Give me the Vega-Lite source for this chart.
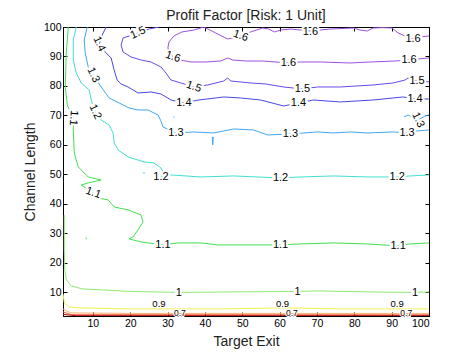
{
  "$schema": "https://vega.github.io/schema/vega-lite/v6.json",
  "autosize": {"type": "none"},
  "width": 366,
  "height": 289,
  "padding": {"left": 63, "top": 27, "right": 45, "bottom": 39},
  "background": "white",
  "title": {"text": "Profit Factor [Risk: 1 Unit]", "font": "Liberation Sans", "fontSize": 14, "fontWeight": "normal", "color": "#222", "offset": 1, "dy": 2},
  "config": {
    "view": {"stroke": "black", "strokeWidth": 1},
    "axis": {"domainColor": "black", "tickColor": "black", "labelColor": "black", "titleColor": "#222", "labelFont": "Liberation Sans", "titleFont": "Liberation Sans", "labelFontSize": 10.5, "titleFontSize": 14, "titleFontWeight": "normal", "grid": false, "tickSize": -4, "labelPadding": 6}
  },
  "datasets": {
    "contours": [
      {"level": "1.6", "seg": "1.6a", "i": 1, "x": 39.70, "y": 100},
      {"level": "1.6", "seg": "1.6a", "i": 2, "x": 42.90, "y": 97.97},
      {"level": "1.6", "seg": "1.6a", "i": 3, "x": 46.10, "y": 95.93},
      {"level": "1.6", "seg": "1.6a", "i": 4, "x": 49.57, "y": 96.95},
      {"level": "1.6", "seg": "1.6a", "i": 5, "x": 52.24, "y": 98.31},
      {"level": "1.6", "seg": "1.6a", "i": 6, "x": 55.44, "y": 99.66},
      {"level": "1.6", "seg": "1.6a", "i": 7, "x": 57.04, "y": 99.32},
      {"level": "1.6", "seg": "1.6a", "i": 8, "x": 58.65, "y": 98.31},
      {"level": "1.6", "seg": "1.6a", "i": 9, "x": 60.25, "y": 98.98},
      {"level": "1.6", "seg": "1.6a", "i": 10, "x": 62.91, "y": 99.32},
      {"level": "1.6", "seg": "1.6a", "i": 11, "x": 68.25, "y": 98.64},
      {"level": "1.6", "seg": "1.6a", "i": 12, "x": 73.60, "y": 99.32},
      {"level": "1.6", "seg": "1.6a", "i": 13, "x": 79.72, "y": 99.66},
      {"level": "1.6", "seg": "1.6a", "i": 14, "x": 81.59, "y": 98.98},
      {"level": "1.6", "seg": "1.6a", "i": 15, "x": 83.46, "y": 98.64},
      {"level": "1.6", "seg": "1.6a", "i": 16, "x": 85.06, "y": 99.66},
      {"level": "1.6", "seg": "1.6a", "i": 17, "x": 87.73, "y": 99.8},
      {"level": "1.6", "seg": "1.6a", "i": 18, "x": 90.13, "y": 99.66},
      {"level": "1.6", "seg": "1.6a", "i": 19, "x": 91.73, "y": 97.97},
      {"level": "1.6", "seg": "1.6a", "i": 20, "x": 93.59, "y": 96.95},
      {"level": "1.6", "seg": "1.6a", "i": 21, "x": 95.73, "y": 95.93},
      {"level": "1.6", "seg": "1.6a", "i": 22, "x": 97.60, "y": 96.61},
      {"level": "1.6", "seg": "1.6a", "i": 23, "x": 100, "y": 96.95},

      {"level": "1.6", "seg": "1.6b", "i": 1, "x": 39.70, "y": 100},
      {"level": "1.6", "seg": "1.6b", "i": 2, "x": 37.03, "y": 98.98},
      {"level": "1.6", "seg": "1.6b", "i": 3, "x": 33.83, "y": 98.31},
      {"level": "1.6", "seg": "1.6b", "i": 4, "x": 31.70, "y": 96.95},
      {"level": "1.6", "seg": "1.6b", "i": 5, "x": 30.36, "y": 94.92},
      {"level": "1.6", "seg": "1.6b", "i": 6, "x": 30.09, "y": 92.88},
      {"level": "1.6", "seg": "1.6b", "i": 7, "x": 30.36, "y": 91.53},
      {"level": "1.6", "seg": "1.6b", "i": 8, "x": 31.43, "y": 89.83},
      {"level": "1.6", "seg": "1.6b", "i": 9, "x": 33.29, "y": 88.81},
      {"level": "1.6", "seg": "1.6b", "i": 10, "x": 36.23, "y": 88.14},
      {"level": "1.6", "seg": "1.6b", "i": 11, "x": 40.23, "y": 88.14},
      {"level": "1.6", "seg": "1.6b", "i": 12, "x": 44.23, "y": 88.47},
      {"level": "1.6", "seg": "1.6b", "i": 13, "x": 46.10, "y": 89.49},
      {"level": "1.6", "seg": "1.6b", "i": 14, "x": 47.44, "y": 88.81},
      {"level": "1.6", "seg": "1.6b", "i": 15, "x": 50.91, "y": 88.47},
      {"level": "1.6", "seg": "1.6b", "i": 16, "x": 55.44, "y": 88.47},
      {"level": "1.6", "seg": "1.6b", "i": 17, "x": 62.38, "y": 87.80},
      {"level": "1.6", "seg": "1.6b", "i": 18, "x": 65.58, "y": 88.14},
      {"level": "1.6", "seg": "1.6b", "i": 19, "x": 70.92, "y": 88.14},
      {"level": "1.6", "seg": "1.6b", "i": 20, "x": 78.92, "y": 87.80},
      {"level": "1.6", "seg": "1.6b", "i": 21, "x": 84.26, "y": 88.14},
      {"level": "1.6", "seg": "1.6b", "i": 22, "x": 90.93, "y": 88.47},
      {"level": "1.6", "seg": "1.6b", "i": 23, "x": 94.66, "y": 88.81},
      {"level": "1.6", "seg": "1.6b", "i": 24, "x": 97.07, "y": 89.15},
      {"level": "1.6", "seg": "1.6b", "i": 25, "x": 100, "y": 89.49},

      {"level": "1.5", "seg": "1.5a", "i": 1, "x": 27.70, "y": 100},
      {"level": "1.5", "seg": "1.5a", "i": 2, "x": 25.03, "y": 99.32},
      {"level": "1.5", "seg": "1.5a", "i": 3, "x": 22.09, "y": 97.97},
      {"level": "1.5", "seg": "1.5a", "i": 4, "x": 18.09, "y": 96.27},
      {"level": "1.5", "seg": "1.5a", "i": 5, "x": 17.56, "y": 93.90},
      {"level": "1.5", "seg": "1.5a", "i": 6, "x": 18.09, "y": 91.53},
      {"level": "1.5", "seg": "1.5a", "i": 7, "x": 20.22, "y": 89.83},
      {"level": "1.5", "seg": "1.5a", "i": 8, "x": 22.89, "y": 88.81},
      {"level": "1.5", "seg": "1.5a", "i": 9, "x": 25.56, "y": 88.14},
      {"level": "1.5", "seg": "1.5a", "i": 10, "x": 28.23, "y": 86.44},
      {"level": "1.5", "seg": "1.5a", "i": 11, "x": 29.56, "y": 84.41},
      {"level": "1.5", "seg": "1.5a", "i": 12, "x": 30.90, "y": 82.03},
      {"level": "1.5", "seg": "1.5a", "i": 13, "x": 33.56, "y": 81.02},
      {"level": "1.5", "seg": "1.5a", "i": 14, "x": 37.03, "y": 79.66},
      {"level": "1.5", "seg": "1.5a", "i": 15, "x": 40.77, "y": 80.34},
      {"level": "1.5", "seg": "1.5a", "i": 16, "x": 45.04, "y": 81.69},
      {"level": "1.5", "seg": "1.5a", "i": 17, "x": 46.10, "y": 82.71},
      {"level": "1.5", "seg": "1.5a", "i": 18, "x": 46.90, "y": 81.69},
      {"level": "1.5", "seg": "1.5a", "i": 19, "x": 52.24, "y": 81.02},
      {"level": "1.5", "seg": "1.5a", "i": 20, "x": 56.25, "y": 80.68},
      {"level": "1.5", "seg": "1.5a", "i": 21, "x": 61.05, "y": 79.66},
      {"level": "1.5", "seg": "1.5a", "i": 22, "x": 66.11, "y": 78.98},
      {"level": "1.5", "seg": "1.5a", "i": 23, "x": 70.12, "y": 79.66},
      {"level": "1.5", "seg": "1.5a", "i": 24, "x": 76.25, "y": 79.66},
      {"level": "1.5", "seg": "1.5a", "i": 25, "x": 85.06, "y": 80.34},
      {"level": "1.5", "seg": "1.5a", "i": 26, "x": 90.40, "y": 81.02},
      {"level": "1.5", "seg": "1.5a", "i": 27, "x": 93.59, "y": 82.03},
      {"level": "1.5", "seg": "1.5a", "i": 28, "x": 94.40, "y": 82.71},
      {"level": "1.5", "seg": "1.5a", "i": 29, "x": 96.80, "y": 81.69},
      {"level": "1.5", "seg": "1.5a", "i": 30, "x": 100, "y": 81.36},

      {"level": "1.4", "seg": "1.4a", "i": 1, "x": 13.55, "y": 100},
      {"level": "1.4", "seg": "1.4a", "i": 2, "x": 12.49, "y": 97.29},
      {"level": "1.4", "seg": "1.4a", "i": 3, "x": 11.69, "y": 94.24},
      {"level": "1.4", "seg": "1.4a", "i": 4, "x": 13.29, "y": 91.53},
      {"level": "1.4", "seg": "1.4a", "i": 5, "x": 14.89, "y": 89.49},
      {"level": "1.4", "seg": "1.4a", "i": 6, "x": 15.69, "y": 85.42},
      {"level": "1.4", "seg": "1.4a", "i": 7, "x": 16.49, "y": 82.03},
      {"level": "1.4", "seg": "1.4a", "i": 8, "x": 17.56, "y": 80.68},
      {"level": "1.4", "seg": "1.4a", "i": 9, "x": 19.42, "y": 79.66},
      {"level": "1.4", "seg": "1.4a", "i": 10, "x": 22.09, "y": 77.63},
      {"level": "1.4", "seg": "1.4a", "i": 11, "x": 25.56, "y": 77.97},
      {"level": "1.4", "seg": "1.4a", "i": 12, "x": 28.23, "y": 77.29},
      {"level": "1.4", "seg": "1.4a", "i": 13, "x": 30.90, "y": 75.25},
      {"level": "1.4", "seg": "1.4a", "i": 14, "x": 34.36, "y": 74.24},
      {"level": "1.4", "seg": "1.4a", "i": 15, "x": 38.37, "y": 75.25},
      {"level": "1.4", "seg": "1.4a", "i": 16, "x": 45.04, "y": 76.27},
      {"level": "1.4", "seg": "1.4a", "i": 17, "x": 49.57, "y": 75.93},
      {"level": "1.4", "seg": "1.4a", "i": 18, "x": 54.91, "y": 75.25},
      {"level": "1.4", "seg": "1.4a", "i": 19, "x": 61.05, "y": 73.22},
      {"level": "1.4", "seg": "1.4a", "i": 20, "x": 65.05, "y": 74.24},
      {"level": "1.4", "seg": "1.4a", "i": 21, "x": 69.05, "y": 75.25},
      {"level": "1.4", "seg": "1.4a", "i": 22, "x": 76.25, "y": 74.58},
      {"level": "1.4", "seg": "1.4a", "i": 23, "x": 85.06, "y": 75.25},
      {"level": "1.4", "seg": "1.4a", "i": 24, "x": 93.06, "y": 76.27},
      {"level": "1.4", "seg": "1.4a", "i": 25, "x": 96.26, "y": 75.59},
      {"level": "1.4", "seg": "1.4a", "i": 26, "x": 100, "y": 75.59},

      {"level": "1.3", "seg": "1.3a", "i": 1, "x": 8.49, "y": 100},
      {"level": "1.3", "seg": "1.3a", "i": 2, "x": 7.68, "y": 95.59},
      {"level": "1.3", "seg": "1.3a", "i": 3, "x": 7.95, "y": 91.19},
      {"level": "1.3", "seg": "1.3a", "i": 4, "x": 8.75, "y": 86.44},
      {"level": "1.3", "seg": "1.3a", "i": 5, "x": 10.09, "y": 83.73},
      {"level": "1.3", "seg": "1.3a", "i": 6, "x": 12.22, "y": 79.66},
      {"level": "1.3", "seg": "1.3a", "i": 7, "x": 14.35, "y": 75.93},
      {"level": "1.3", "seg": "1.3a", "i": 8, "x": 17.56, "y": 73.90},
      {"level": "1.3", "seg": "1.3a", "i": 9, "x": 19.69, "y": 72.54},
      {"level": "1.3", "seg": "1.3a", "i": 10, "x": 22.09, "y": 71.86},
      {"level": "1.3", "seg": "1.3a", "i": 11, "x": 24.76, "y": 71.86},
      {"level": "1.3", "seg": "1.3a", "i": 12, "x": 27.43, "y": 70.17},
      {"level": "1.3", "seg": "1.3a", "i": 13, "x": 28.23, "y": 68.14},
      {"level": "1.3", "seg": "1.3a", "i": 14, "x": 28.76, "y": 66.10},
      {"level": "1.3", "seg": "1.3a", "i": 15, "x": 32.23, "y": 64.07},
      {"level": "1.3", "seg": "1.3a", "i": 16, "x": 37.03, "y": 64.41},
      {"level": "1.3", "seg": "1.3a", "i": 17, "x": 42.37, "y": 64.07},
      {"level": "1.3", "seg": "1.3a", "i": 18, "x": 47.71, "y": 65.42},
      {"level": "1.3", "seg": "1.3a", "i": 19, "x": 53.04, "y": 65.08},
      {"level": "1.3", "seg": "1.3a", "i": 20, "x": 56.78, "y": 63.39},
      {"level": "1.3", "seg": "1.3a", "i": 21, "x": 62.91, "y": 63.73},
      {"level": "1.3", "seg": "1.3a", "i": 22, "x": 66.38, "y": 64.07},
      {"level": "1.3", "seg": "1.3a", "i": 23, "x": 70.12, "y": 64.41},
      {"level": "1.3", "seg": "1.3a", "i": 24, "x": 74.39, "y": 64.07},
      {"level": "1.3", "seg": "1.3a", "i": 25, "x": 78.92, "y": 64.41},
      {"level": "1.3", "seg": "1.3a", "i": 26, "x": 83.46, "y": 64.07},
      {"level": "1.3", "seg": "1.3a", "i": 27, "x": 90.40, "y": 64.41},
      {"level": "1.3", "seg": "1.3a", "i": 28, "x": 94.13, "y": 64.07},
      {"level": "1.3", "seg": "1.3a", "i": 29, "x": 96.80, "y": 64.75},
      {"level": "1.3", "seg": "1.3a", "i": 30, "x": 100, "y": 65.08},
      {"level": "1.3", "seg": "1.3b", "i": 1, "x": 41.97, "y": 62.71},
      {"level": "1.3", "seg": "1.3b", "i": 2, "x": 42.10, "y": 60.0},
      {"level": "1.3", "seg": "1.3b", "i": 3, "x": 42.24, "y": 62.71},
      {"level": "1.3", "seg": "1.3c", "i": 1, "x": 31.55, "y": 69.6},
      {"level": "1.3", "seg": "1.3c", "i": 2, "x": 31.85, "y": 69.3},
      {"level": "1.3", "seg": "1.3d", "i": 1, "x": 93.33, "y": 69.49},
      {"level": "1.3", "seg": "1.3d", "i": 2, "x": 94.40, "y": 70.17},
      {"level": "1.3", "seg": "1.3d", "i": 3, "x": 97.07, "y": 68.47},
      {"level": "1.3", "seg": "1.3d", "i": 4, "x": 98.93, "y": 69.83},
      {"level": "1.3", "seg": "1.3d", "i": 5, "x": 100, "y": 70.17},

      {"level": "1.2", "seg": "1.2a", "i": 1, "x": 5.55, "y": 100},
      {"level": "1.2", "seg": "1.2a", "i": 2, "x": 4.75, "y": 95.59},
      {"level": "1.2", "seg": "1.2a", "i": 3, "x": 4.75, "y": 88.81},
      {"level": "1.2", "seg": "1.2a", "i": 4, "x": 5.55, "y": 84.41},
      {"level": "1.2", "seg": "1.2a", "i": 5, "x": 6.88, "y": 81.02},
      {"level": "1.2", "seg": "1.2a", "i": 6, "x": 9.02, "y": 78.64},
      {"level": "1.2", "seg": "1.2a", "i": 7, "x": 9.55, "y": 75.25},
      {"level": "1.2", "seg": "1.2a", "i": 8, "x": 10.62, "y": 71.19},
      {"level": "1.2", "seg": "1.2a", "i": 9, "x": 12.22, "y": 68.47},
      {"level": "1.2", "seg": "1.2a", "i": 10, "x": 14.35, "y": 66.78},
      {"level": "1.2", "seg": "1.2a", "i": 11, "x": 15.42, "y": 64.07},
      {"level": "1.2", "seg": "1.2a", "i": 12, "x": 15.69, "y": 60.68},
      {"level": "1.2", "seg": "1.2a", "i": 13, "x": 16.76, "y": 58.31},
      {"level": "1.2", "seg": "1.2a", "i": 14, "x": 19.42, "y": 55.93},
      {"level": "1.2", "seg": "1.2a", "i": 15, "x": 23.69, "y": 54.24},
      {"level": "1.2", "seg": "1.2a", "i": 16, "x": 26.36, "y": 53.90},
      {"level": "1.2", "seg": "1.2a", "i": 17, "x": 28.23, "y": 52.20},
      {"level": "1.2", "seg": "1.2a", "i": 18, "x": 29.03, "y": 50.51},
      {"level": "1.2", "seg": "1.2a", "i": 19, "x": 28.23, "y": 49.15},
      {"level": "1.2", "seg": "1.2a", "i": 20, "x": 30.90, "y": 49.83},
      {"level": "1.2", "seg": "1.2a", "i": 21, "x": 38.90, "y": 49.15},
      {"level": "1.2", "seg": "1.2a", "i": 22, "x": 47.71, "y": 49.49},
      {"level": "1.2", "seg": "1.2a", "i": 23, "x": 60.25, "y": 48.81},
      {"level": "1.2", "seg": "1.2a", "i": 24, "x": 65.58, "y": 49.15},
      {"level": "1.2", "seg": "1.2a", "i": 25, "x": 74.39, "y": 49.49},
      {"level": "1.2", "seg": "1.2a", "i": 26, "x": 83.46, "y": 49.15},
      {"level": "1.2", "seg": "1.2a", "i": 27, "x": 91.46, "y": 49.15},
      {"level": "1.2", "seg": "1.2a", "i": 28, "x": 94.93, "y": 49.49},
      {"level": "1.2", "seg": "1.2a", "i": 29, "x": 100, "y": 49.83},
      {"level": "1.2", "seg": "1.2b", "i": 1, "x": 23.4, "y": 50.51},
      {"level": "1.2", "seg": "1.2b", "i": 2, "x": 23.95, "y": 50.51},

      {"level": "1.1", "seg": "1.1a", "i": 1, "x": 3.42, "y": 100},
      {"level": "1.1", "seg": "1.1a", "i": 2, "x": 2.88, "y": 91.19},
      {"level": "1.1", "seg": "1.1a", "i": 3, "x": 2.61, "y": 79.66},
      {"level": "1.1", "seg": "1.1a", "i": 4, "x": 3.15, "y": 73.56},
      {"level": "1.1", "seg": "1.1a", "i": 5, "x": 4.75, "y": 69.15},
      {"level": "1.1", "seg": "1.1a", "i": 6, "x": 4.75, "y": 65.08},
      {"level": "1.1", "seg": "1.1a", "i": 7, "x": 5.02, "y": 57.29},
      {"level": "1.1", "seg": "1.1a", "i": 8, "x": 6.08, "y": 52.54},
      {"level": "1.1", "seg": "1.1a", "i": 9, "x": 8.75, "y": 49.15},
      {"level": "1.1", "seg": "1.1a", "i": 10, "x": 12.22, "y": 48.14},
      {"level": "1.1", "seg": "1.1a", "i": 11, "x": 8.75, "y": 47.12},
      {"level": "1.1", "seg": "1.1a", "i": 12, "x": 6.88, "y": 46.44},
      {"level": "1.1", "seg": "1.1a", "i": 13, "x": 7.68, "y": 45.76},
      {"level": "1.1", "seg": "1.1a", "i": 14, "x": 10.09, "y": 43.73},
      {"level": "1.1", "seg": "1.1a", "i": 15, "x": 11.42, "y": 42.03},
      {"level": "1.1", "seg": "1.1a", "i": 16, "x": 14.09, "y": 41.36},
      {"level": "1.1", "seg": "1.1a", "i": 17, "x": 15.69, "y": 38.98},
      {"level": "1.1", "seg": "1.1a", "i": 18, "x": 19.42, "y": 37.97},
      {"level": "1.1", "seg": "1.1a", "i": 19, "x": 22.89, "y": 36.27},
      {"level": "1.1", "seg": "1.1a", "i": 20, "x": 23.43, "y": 33.90},
      {"level": "1.1", "seg": "1.1a", "i": 21, "x": 22.09, "y": 31.19},
      {"level": "1.1", "seg": "1.1a", "i": 22, "x": 20.76, "y": 28.81},
      {"level": "1.1", "seg": "1.1a", "i": 23, "x": 19.69, "y": 28.14},
      {"level": "1.1", "seg": "1.1a", "i": 24, "x": 22.89, "y": 27.12},
      {"level": "1.1", "seg": "1.1a", "i": 25, "x": 28.76, "y": 26.10},
      {"level": "1.1", "seg": "1.1a", "i": 26, "x": 32.76, "y": 26.78},
      {"level": "1.1", "seg": "1.1a", "i": 27, "x": 38.90, "y": 26.78},
      {"level": "1.1", "seg": "1.1a", "i": 28, "x": 43.44, "y": 26.10},
      {"level": "1.1", "seg": "1.1a", "i": 29, "x": 47.71, "y": 26.10},
      {"level": "1.1", "seg": "1.1a", "i": 30, "x": 56.78, "y": 26.10},
      {"level": "1.1", "seg": "1.1a", "i": 31, "x": 60.25, "y": 26.10},
      {"level": "1.1", "seg": "1.1a", "i": 32, "x": 65.58, "y": 26.44},
      {"level": "1.1", "seg": "1.1a", "i": 33, "x": 74.39, "y": 26.78},
      {"level": "1.1", "seg": "1.1a", "i": 34, "x": 83.46, "y": 26.44},
      {"level": "1.1", "seg": "1.1a", "i": 35, "x": 91.73, "y": 25.76},
      {"level": "1.1", "seg": "1.1a", "i": 36, "x": 94.93, "y": 26.44},
      {"level": "1.1", "seg": "1.1a", "i": 37, "x": 100, "y": 26.78},
      {"level": "1.1", "seg": "1.1b", "i": 1, "x": 8.15, "y": 28.6},
      {"level": "1.1", "seg": "1.1b", "i": 2, "x": 8.3, "y": 28.0},

      {"level": "1.0", "seg": "1.0a", "i": 1, "x": 2.35, "y": 36.27},
      {"level": "1.0", "seg": "1.0a", "i": 2, "x": 2.35, "y": 24.41},
      {"level": "1.0", "seg": "1.0a", "i": 3, "x": 2.48, "y": 17.63},
      {"level": "1.0", "seg": "1.0a", "i": 4, "x": 2.88, "y": 14.24},
      {"level": "1.0", "seg": "1.0a", "i": 5, "x": 4.22, "y": 12.20},
      {"level": "1.0", "seg": "1.0a", "i": 6, "x": 7.15, "y": 11.19},
      {"level": "1.0", "seg": "1.0a", "i": 7, "x": 12.49, "y": 10.85},
      {"level": "1.0", "seg": "1.0a", "i": 8, "x": 19.69, "y": 10.34},
      {"level": "1.0", "seg": "1.0a", "i": 9, "x": 33.03, "y": 10.0},
      {"level": "1.0", "seg": "1.0a", "i": 10, "x": 47.71, "y": 10.17},
      {"level": "1.0", "seg": "1.0a", "i": 11, "x": 64.78, "y": 10.34},
      {"level": "1.0", "seg": "1.0a", "i": 12, "x": 70.12, "y": 10.51},
      {"level": "1.0", "seg": "1.0a", "i": 13, "x": 83.46, "y": 10.17},
      {"level": "1.0", "seg": "1.0a", "i": 14, "x": 96.26, "y": 10.0},
      {"level": "1.0", "seg": "1.0a", "i": 15, "x": 100, "y": 10.17},

      {"level": "0.9", "seg": "0.9a", "i": 1, "x": 2.0, "y": 9.49},
      {"level": "0.9", "seg": "0.9a", "i": 2, "x": 2.35, "y": 6.44},
      {"level": "0.9", "seg": "0.9a", "i": 3, "x": 3.68, "y": 5.08},
      {"level": "0.9", "seg": "0.9a", "i": 4, "x": 6.35, "y": 4.75},
      {"level": "0.9", "seg": "0.9a", "i": 5, "x": 19.69, "y": 4.41},
      {"level": "0.9", "seg": "0.9a", "i": 6, "x": 44.23, "y": 4.41},
      {"level": "0.9", "seg": "0.9a", "i": 7, "x": 60.78, "y": 4.75},
      {"level": "0.9", "seg": "0.9a", "i": 8, "x": 76.25, "y": 4.41},
      {"level": "0.9", "seg": "0.9a", "i": 9, "x": 100, "y": 4.41},

      {"level": "0.8", "seg": "0.8a", "i": 1, "x": 2.0, "y": 4.41},
      {"level": "0.8", "seg": "0.8a", "i": 2, "x": 2.88, "y": 3.73},
      {"level": "0.8", "seg": "0.8a", "i": 3, "x": 4.22, "y": 3.05},
      {"level": "0.8", "seg": "0.8a", "i": 4, "x": 19.69, "y": 2.88},
      {"level": "0.8", "seg": "0.8a", "i": 5, "x": 100, "y": 2.88},

      {"level": "0.7", "seg": "0.7a", "i": 1, "x": 2.0, "y": 3.39},
      {"level": "0.7", "seg": "0.7a", "i": 2, "x": 4.22, "y": 2.45},
      {"level": "0.7", "seg": "0.7a", "i": 3, "x": 100, "y": 2.4},

      {"level": "0.6", "seg": "0.6a", "i": 1, "x": 2.0, "y": 2.54},
      {"level": "0.6", "seg": "0.6a", "i": 2, "x": 5.55, "y": 2.1},
      {"level": "0.6", "seg": "0.6a", "i": 3, "x": 100, "y": 2.1}
    ],
    "labelsFlat": [
      {"t": "1.6", "x": 68.25, "y": 98.3},
      {"t": "1.6", "x": 95.73, "y": 95.93},
      {"t": "1.6", "x": 62.38, "y": 87.80},
      {"t": "1.6", "x": 94.66, "y": 88.81},
      {"t": "1.5", "x": 66.11, "y": 78.98},
      {"t": "1.5", "x": 96.80, "y": 81.69},
      {"t": "1.4", "x": 34.36, "y": 74.24},
      {"t": "1.4", "x": 65.05, "y": 74.24},
      {"t": "1.4", "x": 96.26, "y": 75.59},
      {"t": "1.3", "x": 32.23, "y": 64.07},
      {"t": "1.3", "x": 62.91, "y": 63.73},
      {"t": "1.3", "x": 94.13, "y": 64.07},
      {"t": "1.2", "x": 28.23, "y": 49.15},
      {"t": "1.2", "x": 60.25, "y": 48.81},
      {"t": "1.2", "x": 91.46, "y": 49.15},
      {"t": "1.1", "x": 28.76, "y": 26.10},
      {"t": "1.1", "x": 60.25, "y": 26.10},
      {"t": "1.1", "x": 91.73, "y": 25.76},
      {"t": "1", "x": 33.03, "y": 9.83},
      {"t": "1", "x": 64.78, "y": 10.17},
      {"t": "1", "x": 96.26, "y": 9.83}
    ],
    "labelsLow": [
      {"t": "0.9", "x": 27.70, "y": 6.0},
      {"t": "0.9", "x": 60.78, "y": 6.1},
      {"t": "0.9", "x": 91.46, "y": 6.0}
    ],
    "labelsLower": [
      {"t": "0.7", "x": 33.3, "y": 2.85},
      {"t": "0.7", "x": 63.3, "y": 2.85},
      {"t": "0.7", "x": 93.9, "y": 2.85}
    ],
    "labelsTilt": [
      {"t": "1.6", "x": 49.57, "y": 96.95},
      {"t": "1.6", "x": 31.43, "y": 89.83},
      {"t": "1.5", "x": 37.03, "y": 79.66},
      {"t": "1.1", "x": 10.09, "y": 43.73}
    ],
    "labelsUp": [
      {"t": "1.5", "x": 22.09, "y": 97.97}
    ],
    "labelsSteep": [
      {"t": "1.4", "x": 11.69, "y": 94.24},
      {"t": "1.3", "x": 10.09, "y": 83.73},
      {"t": "1.2", "x": 10.62, "y": 71.19},
      {"t": "1.3", "x": 97.07, "y": 68.47}
    ],
    "labelsVert": [
      {"t": "1.1", "x": 4.75, "y": 69.15}
    ]
  },
  "resolve": {"axis": {"x": "independent", "y": "independent"}},
  "layer": [
    {
      "data": {"name": "contours"},
      "mark": {"type": "line", "strokeWidth": 1, "clip": true},
      "encoding": {
        "x": {"field": "x", "type": "quantitative", "scale": {"domain": [2, 100], "nice": false, "zero": false}, "axis": {"values": [10, 20, 30, 40, 50, 60, 70, 80, 90, 100], "title": "Target Exit", "titlePadding": 6}},
        "y": {"field": "y", "type": "quantitative", "scale": {"domain": [2, 100], "nice": false, "zero": false}, "axis": {"values": [10, 20, 30, 40, 50, 60, 70, 80, 90, 100], "title": "Channel Length", "titlePadding": 6}},
        "color": {"field": "level", "type": "nominal", "legend": null, "scale": {"domain": ["0.6", "0.7", "0.8", "0.9", "1.0", "1.1", "1.2", "1.3", "1.4", "1.5", "1.6"], "range": ["#b00000", "#f06040", "#f8b070", "#f0f050", "#90e870", "#40e050", "#40e0d0", "#40a8f0", "#4848e8", "#6a48e8", "#9c50e0"]}},
        "detail": {"field": "seg"},
        "order": {"field": "i", "type": "quantitative"}
      }
    },
    {
      "data": {"name": "contours"},
      "mark": {"type": "point", "opacity": 0},
      "encoding": {
        "x": {"field": "x", "type": "quantitative", "axis": {"orient": "top", "values": [10, 20, 30, 40, 50, 60, 70, 80, 90, 100], "labels": false, "title": null}},
        "y": {"field": "y", "type": "quantitative", "axis": {"orient": "right", "values": [10, 20, 30, 40, 50, 60, 70, 80, 90, 100], "labels": false, "title": null}}
      }
    },
    {
      "data": {"name": "labelsFlat"},
      "mark": {"type": "text", "font": "Liberation Sans", "fontSize": 11, "stroke": "white", "strokeWidth": 4, "fill": "white"},
      "encoding": {"x": {"field": "x", "type": "quantitative", "axis": null}, "y": {"field": "y", "type": "quantitative", "axis": null}, "text": {"field": "t"}}
    },
    {
      "data": {"name": "labelsFlat"},
      "mark": {"type": "text", "font": "Liberation Sans", "fontSize": 11, "fill": "black"},
      "encoding": {"x": {"field": "x", "type": "quantitative", "axis": null}, "y": {"field": "y", "type": "quantitative", "axis": null}, "text": {"field": "t"}}
    },
    {
      "data": {"name": "labelsLow"},
      "mark": {"type": "text", "font": "Liberation Sans", "fontSize": 9.5, "stroke": "white", "strokeWidth": 2, "fill": "white"},
      "encoding": {"x": {"field": "x", "type": "quantitative", "axis": null}, "y": {"field": "y", "type": "quantitative", "axis": null}, "text": {"field": "t"}}
    },
    {
      "data": {"name": "labelsLow"},
      "mark": {"type": "text", "font": "Liberation Sans", "fontSize": 9.5, "fill": "black"},
      "encoding": {"x": {"field": "x", "type": "quantitative", "axis": null}, "y": {"field": "y", "type": "quantitative", "axis": null}, "text": {"field": "t"}}
    },
    {
      "data": {"name": "labelsLower"},
      "mark": {"type": "text", "font": "Liberation Sans", "fontSize": 8.5, "stroke": "white", "strokeWidth": 2, "fill": "white"},
      "encoding": {"x": {"field": "x", "type": "quantitative", "axis": null}, "y": {"field": "y", "type": "quantitative", "axis": null}, "text": {"field": "t"}}
    },
    {
      "data": {"name": "labelsLower"},
      "mark": {"type": "text", "font": "Liberation Sans", "fontSize": 8.5, "fill": "black"},
      "encoding": {"x": {"field": "x", "type": "quantitative", "axis": null}, "y": {"field": "y", "type": "quantitative", "axis": null}, "text": {"field": "t"}}
    },
    {
      "data": {"name": "labelsTilt"},
      "mark": {"type": "text", "font": "Liberation Sans", "fontSize": 11, "angle": 20, "stroke": "white", "strokeWidth": 4, "fill": "white"},
      "encoding": {"x": {"field": "x", "type": "quantitative", "axis": null}, "y": {"field": "y", "type": "quantitative", "axis": null}, "text": {"field": "t"}}
    },
    {
      "data": {"name": "labelsTilt"},
      "mark": {"type": "text", "font": "Liberation Sans", "fontSize": 11, "angle": 20, "fill": "black"},
      "encoding": {"x": {"field": "x", "type": "quantitative", "axis": null}, "y": {"field": "y", "type": "quantitative", "axis": null}, "text": {"field": "t"}}
    },
    {
      "data": {"name": "labelsUp"},
      "mark": {"type": "text", "font": "Liberation Sans", "fontSize": 11, "angle": -25, "stroke": "white", "strokeWidth": 4, "fill": "white"},
      "encoding": {"x": {"field": "x", "type": "quantitative", "axis": null}, "y": {"field": "y", "type": "quantitative", "axis": null}, "text": {"field": "t"}}
    },
    {
      "data": {"name": "labelsUp"},
      "mark": {"type": "text", "font": "Liberation Sans", "fontSize": 11, "angle": -25, "fill": "black"},
      "encoding": {"x": {"field": "x", "type": "quantitative", "axis": null}, "y": {"field": "y", "type": "quantitative", "axis": null}, "text": {"field": "t"}}
    },
    {
      "data": {"name": "labelsSteep"},
      "mark": {"type": "text", "font": "Liberation Sans", "fontSize": 11, "angle": 65, "stroke": "white", "strokeWidth": 4, "fill": "white"},
      "encoding": {"x": {"field": "x", "type": "quantitative", "axis": null}, "y": {"field": "y", "type": "quantitative", "axis": null}, "text": {"field": "t"}}
    },
    {
      "data": {"name": "labelsSteep"},
      "mark": {"type": "text", "font": "Liberation Sans", "fontSize": 11, "angle": 65, "fill": "black"},
      "encoding": {"x": {"field": "x", "type": "quantitative", "axis": null}, "y": {"field": "y", "type": "quantitative", "axis": null}, "text": {"field": "t"}}
    },
    {
      "data": {"name": "labelsVert"},
      "mark": {"type": "text", "font": "Liberation Sans", "fontSize": 11, "angle": 95, "stroke": "white", "strokeWidth": 4, "fill": "white"},
      "encoding": {"x": {"field": "x", "type": "quantitative", "axis": null}, "y": {"field": "y", "type": "quantitative", "axis": null}, "text": {"field": "t"}}
    },
    {
      "data": {"name": "labelsVert"},
      "mark": {"type": "text", "font": "Liberation Sans", "fontSize": 11, "angle": 95, "fill": "black"},
      "encoding": {"x": {"field": "x", "type": "quantitative", "axis": null}, "y": {"field": "y", "type": "quantitative", "axis": null}, "text": {"field": "t"}}
    }
  ]
}
